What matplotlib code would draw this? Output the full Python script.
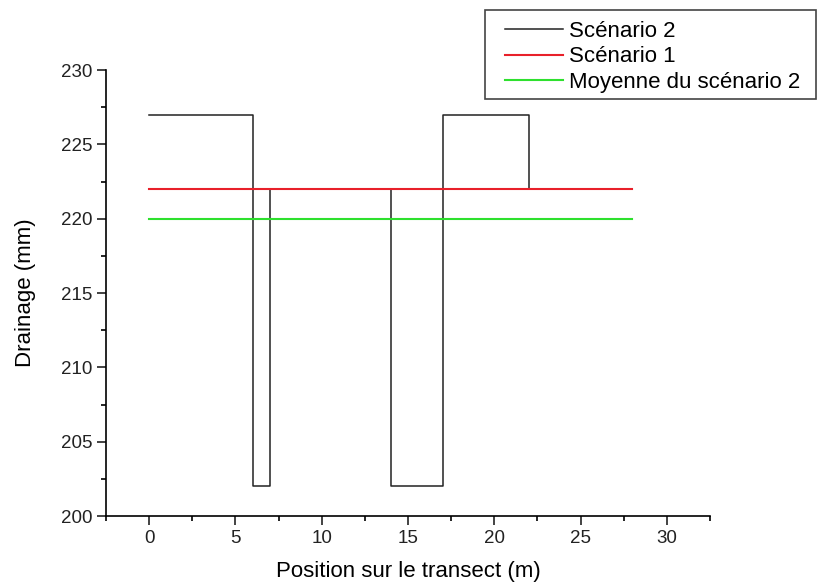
import matplotlib.pyplot as plt
from matplotlib.patches import Rectangle
from matplotlib.ticker import MultipleLocator

plt.rcParams['font.family'] = ['Liberation Sans', 'DejaVu Sans']

# scenario 2: drainage per transect segment (step starts)
pos2 = [0, 6, 7, 14, 17, 22, 28]
drain2 = [227, 202, 222, 202, 227, 222, 222]
# scenario 1 and mean of scenario 2 (constant)
pos_flat = [0, 28]
drain1 = [222, 222]
mean2 = [220, 220]

labels = ['Scénario 2', 'Scénario 1', 'Moyenne du scénario 2']

fig = plt.figure(figsize=(8.24, 5.85), dpi=100)
ax = fig.add_axes([0.1286, 0.1179, 0.7331, 0.7624])

l1, = ax.plot(pos2, drain2, drawstyle='steps-post', color='#222222', lw=1.1)
l2, = ax.plot(pos_flat, drain1, color='#e8202a', lw=1.5)
l3, = ax.plot(pos_flat, mean2, color='#2ee02e', lw=1.5)

ax.set_xlim(-2.5, 32.5)
ax.set_ylim(200, 230)
ax.xaxis.set_major_locator(MultipleLocator(5))
ax.xaxis.set_minor_locator(MultipleLocator(2.5))
ax.yaxis.set_major_locator(MultipleLocator(5))
ax.yaxis.set_minor_locator(MultipleLocator(2.5))
ax.tick_params(which='major', direction='out', length=6.5, width=1.2,
               labelsize=13.5, colors='#222222')
ax.tick_params(which='minor', direction='out', length=3.6, width=1.2)
for s in ['top', 'right']:
    ax.spines[s].set_visible(False)
for s in ['left', 'bottom']:
    ax.spines[s].set_linewidth(1.2)

ax.set_xlabel('Position sur le transect (m)', fontsize=16, labelpad=10)
ax.set_ylabel('Drainage (mm)', fontsize=16, labelpad=18)

# legend frame drawn separately (wider side padding than matplotlib's)
fig.patches.append(Rectangle((0.5886, 0.8308), 0.4017, 0.1521,
                             transform=fig.transFigure, fill=False,
                             edgecolor='#444444', lw=1.2))
leg = fig.legend([l1, l2, l3], labels, loc='upper left',
                 bbox_to_anchor=(0.602, 0.9795), fontsize=16,
                 frameon=False, handlelength=2.6, handletextpad=0.3,
                 labelspacing=0.2, borderpad=0.4, borderaxespad=0)

fig.savefig('out.png', dpi=100)
